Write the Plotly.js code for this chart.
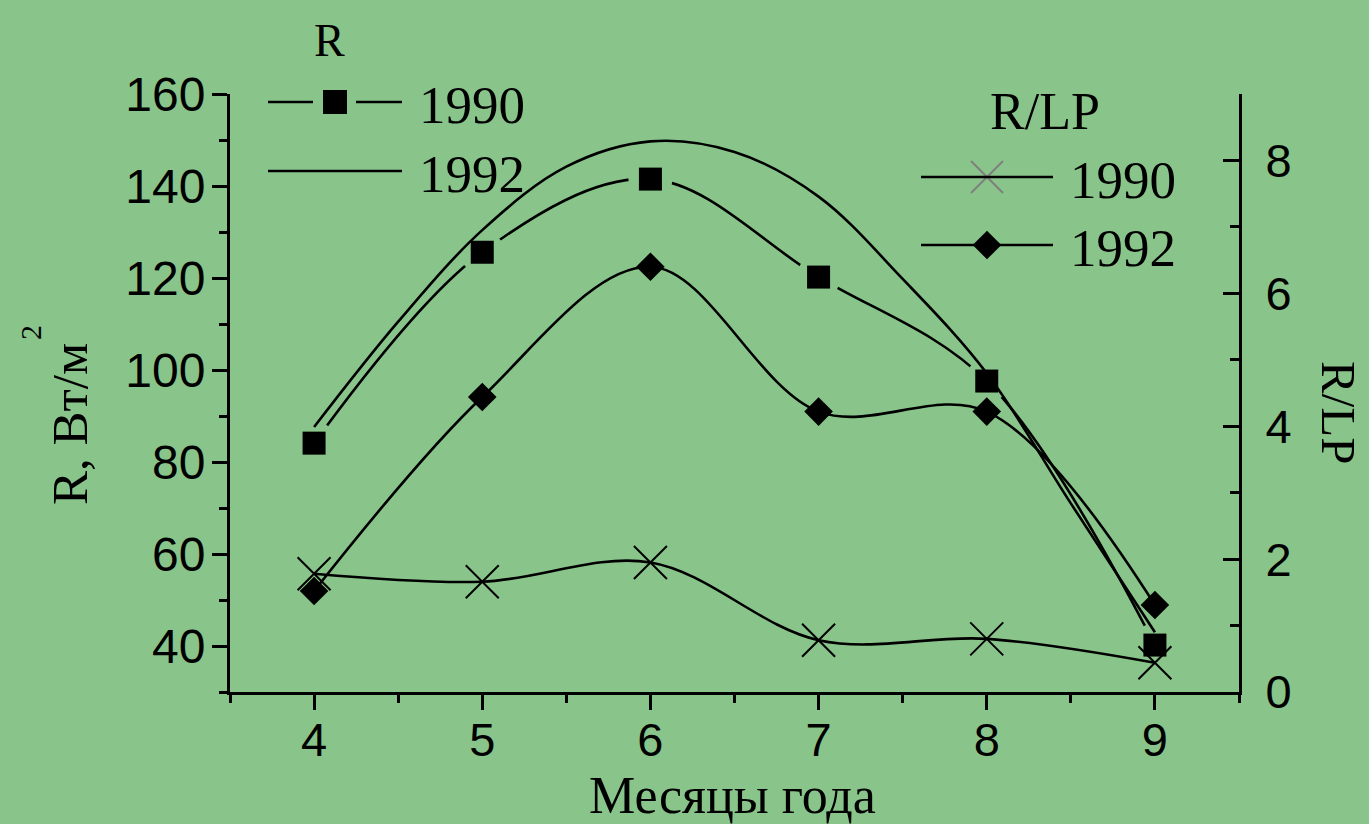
<!DOCTYPE html>
<html>
<head>
<meta charset="utf-8">
<script src="https://cdn.plot.ly/plotly-3.0.1.min.js"></script>
<style>html,body{margin:0;padding:0;background:#89C58A;}#chart{width:1369px;height:824px;}</style>
</head>
<body>
<div id="chart"></div>
<script>
// ---- data ----
const months = [4, 5, 6, 7, 8, 9];
const r1990 = [84.1, 125.6, 141.5, 120.2, 97.6, 40.2];
const r1992Months = [4, 4.5, 5, 5.5, 6, 6.5, 7, 7.5, 8, 8.5, 9];
const r1992 = [87.6, 110.5, 130.4, 144.2, 149.7, 147.4, 137.7, 119.8, 99.3, 71, 43];
const rlp1990 = [1.78, 1.66, 1.95, 0.78, 0.80, 0.44];
const rlp1992 = [1.52, 4.44, 6.40, 4.22, 4.22, 1.31];

const xTicks = [4, 5, 6, 7, 8, 9];
const yLeftTicks = [40, 60, 80, 100, 120, 140, 160];
const yRightTicks = [0, 2, 4, 6, 8];

const legendLabels = {left: 'R', right: 'R/LP', a: '1990', b: '1992'};

// ---- styles ----
const BG = '#89C58A';
const SERIF = 'Liberation Serif, Times New Roman, serif';
const SANS = 'Liberation Sans, Arial, sans-serif';
const LW = 2.6;

// plot-area pixel helpers for decoration placement (legend / titles)
const PL = 230, PR = 1239, PT = 94, PB = 692;
const px = v => (v - PL) / (PR - PL);
const py = v => (PB - v) / (PB - PT);

const traces = [
  // R 1990 line
  {x: months, y: r1990, mode: 'lines', line: {color: 'black', width: LW, shape: 'spline', smoothing: 1}, xaxis: 'x', yaxis: 'y', hoverinfo: 'skip'},
  // gap around the squares
  {x: months, y: r1990, mode: 'markers', marker: {symbol: 'circle', size: 44, color: BG}, xaxis: 'x', yaxis: 'y', cliponaxis: false, hoverinfo: 'skip'},
  {x: months, y: r1990, mode: 'markers', marker: {symbol: 'square', size: 23, color: 'black'}, xaxis: 'x', yaxis: 'y', cliponaxis: false},
  // R 1992 line
  {x: r1992Months, y: r1992, mode: 'lines', line: {color: 'black', width: LW, shape: 'spline', smoothing: 1}, xaxis: 'x', yaxis: 'y'},
  // R/LP 1990
  {x: months, y: rlp1990, mode: 'lines+markers', line: {color: 'black', width: LW, shape: 'spline', smoothing: 1},
   marker: {symbol: 'x-thin-open', size: 33, line: {color: 'black', width: 2}}, xaxis: 'x', yaxis: 'y2', cliponaxis: false},
  // R/LP 1992
  {x: months, y: rlp1992, mode: 'lines+markers', line: {color: 'black', width: LW, shape: 'spline', smoothing: 1},
   marker: {symbol: 'diamond', size: 22, color: 'black'}, xaxis: 'x', yaxis: 'y2', cliponaxis: false},
  // legend glyphs (in plot-area fractions)
  {x: [px(335)], y: [py(102)], mode: 'markers', marker: {symbol: 'square', size: 24, color: 'black'}, xaxis: 'x3', yaxis: 'y3', cliponaxis: false, hoverinfo: 'skip'},
  {x: [px(987)], y: [py(177)], mode: 'markers', marker: {symbol: 'x-thin-open', size: 32, line: {color: 'black', width: 2}}, xaxis: 'x3', yaxis: 'y3', cliponaxis: false, hoverinfo: 'skip'},
  {x: [px(987)], y: [py(245)], mode: 'markers', marker: {symbol: 'diamond', size: 22, color: 'black'}, xaxis: 'x3', yaxis: 'y3', cliponaxis: false, hoverinfo: 'skip'}
];

const lineShape = (x0, x1, y) => ({type: 'line', xref: 'paper', yref: 'paper', x0: px(x0), x1: px(x1), y0: py(y), y1: py(y), line: {color: 'black', width: LW}});

const ann = (text, x, y, size, opts) => Object.assign({text: text, xref: 'paper', yref: 'paper', x: px(x), y: py(y), showarrow: false,
  font: {family: SERIF, size: size, color: 'black'}, xanchor: 'center', yanchor: 'middle'}, opts || {});

const layout = {
  width: 1369, height: 824,
  paper_bgcolor: BG, plot_bgcolor: BG,
  margin: {l: PL, r: 1369 - PR, t: PT, b: 824 - PB},
  showlegend: false,
  xaxis: {
    range: [3.5, 9.5], tickvals: xTicks, ticktext: xTicks.map(String),
    showline: true, linecolor: 'black', linewidth: 3, showgrid: false, zeroline: false,
    ticks: 'outside', ticklen: 15, tickwidth: 3, tickcolor: 'black',
    minor: {dtick: 0.5, tick0: 3.5, ticks: 'outside', ticklen: 8, tickwidth: 3, tickcolor: 'black'},
    tickfont: {family: SANS, size: 47, color: 'black'}, ticklabelstandoff: -10
  },
  yaxis: {
    range: [30, 160], tickvals: yLeftTicks, ticktext: yLeftTicks.map(String),
    showline: true, linecolor: 'black', linewidth: 3, showgrid: false, zeroline: false,
    ticks: 'outside', ticklen: 15, tickwidth: 3, tickcolor: 'black',
    minor: {dtick: 10, tick0: 30, ticks: 'outside', ticklen: 8, tickwidth: 3, tickcolor: 'black'},
    tickfont: {family: SANS, size: 48, color: 'black'}, ticklabelstandoff: -3
  },
  yaxis2: {
    range: [0, 9], overlaying: 'y', side: 'right', tickvals: yRightTicks, ticktext: yRightTicks.map(String),
    showline: true, linecolor: 'black', linewidth: 3, showgrid: false, zeroline: false,
    ticks: 'inside', ticklen: 16, tickwidth: 3, tickcolor: 'black',
    minor: {dtick: 1, tick0: 0, ticks: 'inside', ticklen: 9, tickwidth: 3, tickcolor: 'black'},
    tickfont: {family: SANS, size: 47, color: 'black'}, ticklabelstandoff: 14
  },
  xaxis3: {overlaying: 'x', range: [0, 1], visible: false, fixedrange: true},
  yaxis3: {overlaying: 'y', range: [0, 1], visible: false, fixedrange: true, anchor: 'x3'},
  shapes: [
    lineShape(268, 313, 102), lineShape(356, 402, 102),
    lineShape(268, 402, 171),
    lineShape(921, 1053, 177), lineShape(921, 1053, 245)
  ],
  annotations: [
    ann(legendLabels.left, 329, 41, 46),
    ann(legendLabels.a, 417, 105, 53, {xanchor: 'left'}),
    ann(legendLabels.b, 417, 174, 53, {xanchor: 'left'}),
    ann(legendLabels.right, 1045, 112, 52),
    ann(legendLabels.a, 1068, 180, 53, {xanchor: 'left'}),
    ann(legendLabels.b, 1068, 248, 53, {xanchor: 'left'}),
    ann('Месяцы года', 732, 796, 52),
    ann('R, Вт/м', 70, 424, 51, {textangle: -90}),
    ann('2', 30, 333, 30, {textangle: -90}),
    ann('R/LP', 1339, 412, 49, {textangle: 90})
  ]
};

Plotly.newPlot('chart', traces, layout, {staticPlot: true, displayModeBar: false});
</script>
</body>
</html>
